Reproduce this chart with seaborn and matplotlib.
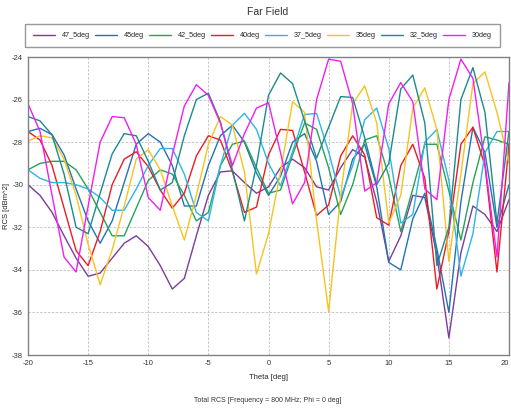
import numpy as np
import pandas as pd
from matplotlib import pyplot as plt
import seaborn as sns

# theta sweep, 1 degree steps
theta = list(range(-20, 21))

series_names = ["47_5deg", "45deg", "42_5deg", "40deg", "37_5deg", "35deg", "32_5deg", "30deg"]
series_colors = ["#7b3c9c", "#2372b6", "#25a259", "#ec1c24", "#2cb5e9", "#f8c31e", "#1b8b8d", "#f01ff0"]

rcs_47_5 = [-30.0, -30.5, -31.3, -32.4, -33.45, -34.3, -34.15, -33.45, -32.75, -32.4, -32.9,
            -33.8, -34.9, -34.4, -32.4, -30.5, -29.4, -29.35, -29.9, -30.4, -30.1,
            -29.2, -28.8, -29.2, -30.1, -30.25, -29.2, -28.35, -28.7, -30.8, -33.6,
            -32.4, -30.5, -30.6, -33.3, -37.2, -33.2, -31.0, -31.4, -32.2, -30.7]
rcs_45 = [-27.5, -27.35, -27.65, -28.6, -30.2, -31.7, -32.75, -31.7, -29.9, -28.1, -27.6,
          -28.0, -29.1, -31.0, -31.0, -29.1, -27.7, -27.2, -28.0, -29.45, -30.5,
          -29.6, -28.0, -27.6, -28.9, -31.4, -30.8, -28.8, -28.1, -30.1, -33.65,
          -34.0, -31.6, -30.4, -33.0, -36.0, -30.8, -27.3, -28.5, -32.0, -30.0]
rcs_42_5 = [-29.3, -29.0, -28.9, -28.9, -29.3, -30.2, -31.3, -32.4, -32.4, -31.1, -29.8,
            -29.3, -29.5, -30.5, -31.7, -31.3, -29.1, -28.1, -27.95, -29.2, -30.4,
            -30.25, -28.6, -27.1, -27.4, -29.2, -31.4, -30.0, -27.9, -27.7, -29.6,
            -32.2, -30.2, -28.1, -28.1, -30.3, -32.6, -29.9, -27.75, -27.9, -28.1]
rcs_40 = [-27.5, -27.9, -29.1, -31.1, -33.1, -33.8, -32.2, -30.0, -28.8, -28.45, -29.15,
          -30.25, -31.1, -30.4, -28.65, -27.7, -27.9, -29.4, -31.3, -31.05, -28.6,
          -27.4, -27.45, -29.4, -31.45, -30.95, -28.65, -27.7, -28.6, -31.55, -31.9,
          -29.1, -28.1, -29.7, -34.9, -32.2, -28.1, -27.3, -29.1, -34.1, -28.1]
rcs_37_5 = [-29.3, -29.7, -29.9, -29.9, -30.0, -30.2, -30.6, -31.2, -31.2, -30.2, -29.1,
            -28.3, -28.3, -29.5, -31.3, -31.7, -29.1, -27.2, -26.65, -27.4, -29.0,
            -30.05, -28.45, -26.7, -26.65, -28.45, -30.6, -29.1, -26.95, -26.4, -28.3,
            -31.8, -31.4, -28.0, -27.4, -29.8, -34.3, -32.3, -28.5, -27.5, -27.5]
rcs_35 = [-27.95, -27.7, -27.8, -28.8, -30.5, -32.8, -34.7, -33.06, -31.0, -28.8, -28.35,
          -29.3, -31.0, -32.6, -30.5, -28.1, -26.8, -27.2, -29.4, -34.2, -32.3,
          -29.4, -26.1, -26.6, -31.7, -35.95, -30.5, -26.2, -25.35, -27.1, -31.8,
          -30.5, -26.4, -25.45, -27.4, -33.6, -29.5, -25.25, -24.7, -26.6, -29.0]
rcs_32_5 = [-26.8, -27.0, -27.66, -29.5, -32.0, -32.3, -30.4, -28.55, -27.6, -27.7, -28.9,
            -30.25, -29.9, -27.7, -26.0, -25.7, -27.05, -29.3, -31.7, -29.1, -25.8,
            -24.75, -25.25, -27.0, -28.75, -27.3, -25.86, -25.9, -27.8, -30.0, -29.0,
            -25.5, -24.85, -27.1, -33.8, -32.0, -26.0, -24.5, -26.6, -31.8, -27.5]
rcs_30 = [-26.2, -27.5, -30.5, -33.4, -34.1, -31.0, -28.0, -26.8, -26.85, -28.1, -30.6,
          -31.2, -28.6, -26.3, -25.3, -25.8, -27.1, -29.1, -27.6, -26.4, -26.15,
          -28.5, -30.9, -29.9, -26.0, -24.1, -24.2, -26.2, -30.3, -29.9, -26.2,
          -25.2, -26.1, -30.2, -30.7, -26.0, -24.1, -25.0, -29.0, -33.4, -25.2]

x_ticks = [-20, -15, -10, -5, 0, 5, 10, 15, 20]
y_ticks = [-38, -36, -34, -32, -30, -28, -26, -24]

all_values = [rcs_47_5, rcs_45, rcs_42_5, rcs_40, rcs_37_5, rcs_35, rcs_32_5, rcs_30]
frames = []
for name, vals in zip(series_names, all_values):
    frames.append(pd.DataFrame({"Theta": theta, "RCS": vals, "series": name}))
df = pd.concat(frames, ignore_index=True)

sns.set_style("white")
plt.rcParams["font.family"] = ["Liberation Sans", "DejaVu Sans"]

fig = plt.figure(figsize=(5.11, 4.12), dpi=100)
ax = fig.add_axes([28 / 511, 57 / 412, 481 / 511, 298 / 412])

sns.lineplot(data=df, x="Theta", y="RCS", hue="series", hue_order=series_names,
             palette=series_colors, linewidth=1.0, ax=ax, legend=False)

ax.set_xlim(-20, 20)
ax.set_ylim(-38, -24)
ax.set_xticks(x_ticks)
ax.set_yticks(y_ticks)
ax.set_xticklabels([str(t) for t in x_ticks])
ax.set_yticklabels([str(t) for t in y_ticks])
ax.tick_params(labelsize=5.5, length=2, width=0.6, colors="#333333", pad=1.5)
# keep the last x label inside the figure
ax.get_xticklabels()[-1].set_horizontalalignment("right")
ax.grid(True, linestyle=(0, (2.5, 1.5)), color="#c8c8c8", linewidth=0.7)
for side in ["left", "bottom", "top", "right"]:
    ax.spines[side].set_color("#808080")
    ax.spines[side].set_linewidth(1.0)
ax.set_xlabel("Theta [deg]", fontsize=5.5, labelpad=5)
ax.set_ylabel("RCS [dBm^2]", fontsize=5.5)
ax.yaxis.set_label_coords(-18 / 481, 0.5)

# legend across the top
handles = [plt.Line2D([], [], color=c, linewidth=1.0) for c in series_colors]
fig.legend(handles, series_names, loc="lower left", ncol=8, mode="expand",
           bbox_to_anchor=(25 / 511, 1 - 47 / 412, 475 / 511, 20 / 412),
           fontsize=5.2, handlelength=3.0, handletextpad=1.0, columnspacing=0.8,
           borderpad=1.1, frameon=True, fancybox=False, edgecolor="#808080",
           borderaxespad=0.0)

fig.text(268 / 511, 1 - 12 / 412, "Far Field", ha="center", va="center", fontsize=7.5, color="#333333")
fig.text(268 / 511, 1 - 401 / 412, "Total RCS [Frequency = 800 MHz; Phi = 0 deg]",
         ha="center", va="center", fontsize=5.0, color="#333333")

fig.savefig("out.png", dpi=100)
